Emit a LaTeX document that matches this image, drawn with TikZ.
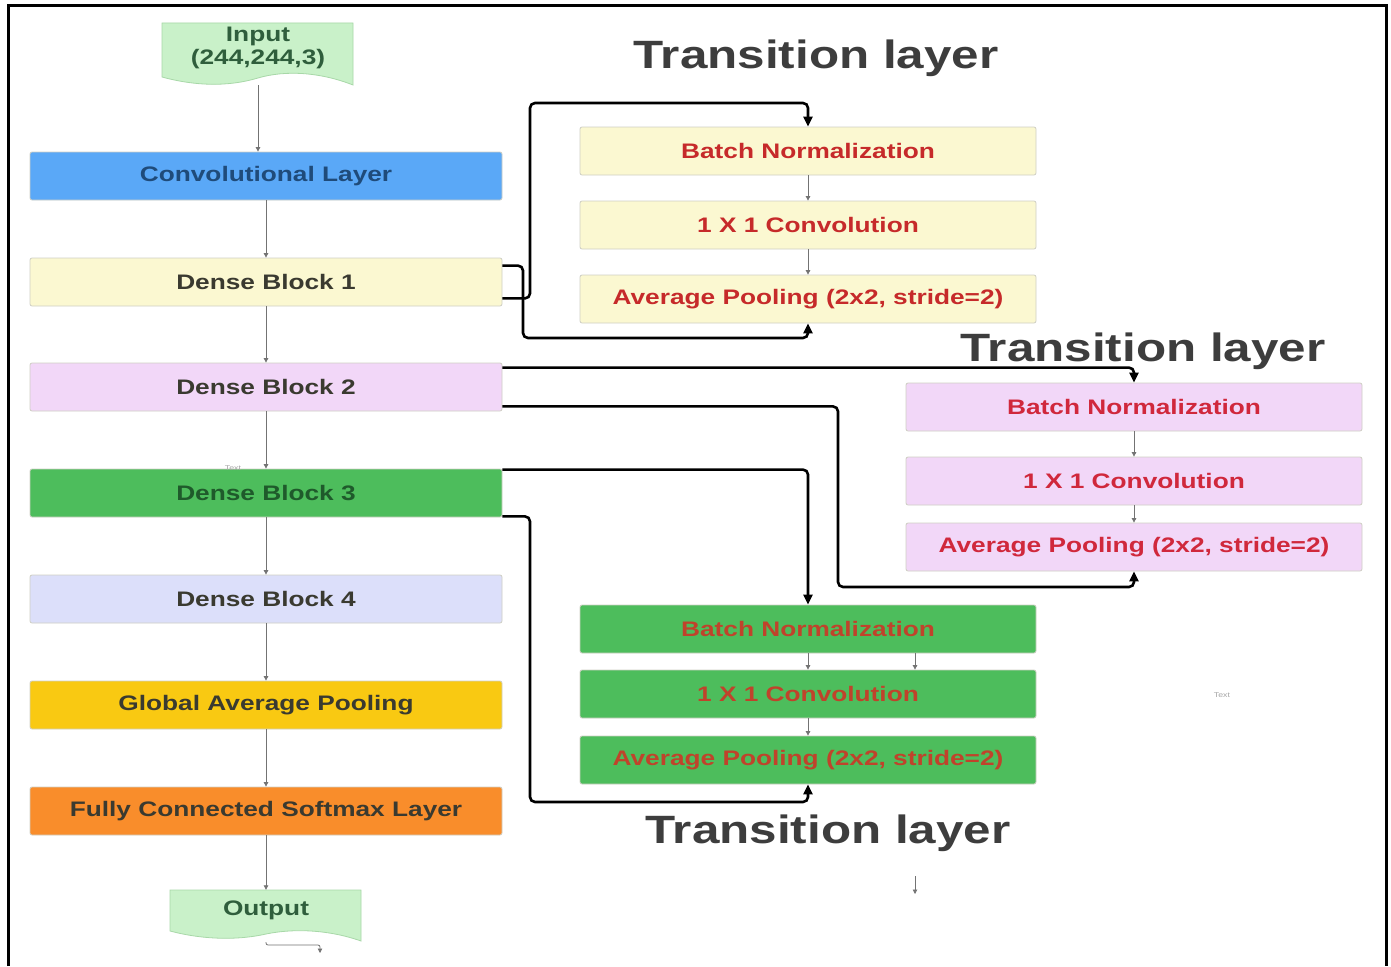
\documentclass[tikz,border=0pt]{standalone}
\usepackage{fontspec}
\setmainfont[FakeStretch=1.25]{Liberation Sans}
\usetikzlibrary{arrows.meta,calc}
\definecolor{inG}{HTML}{C9F1C9}
\definecolor{inGb}{HTML}{A8D8A8}
\definecolor{inGt}{HTML}{2F5E3C}
\definecolor{convB}{HTML}{5AA8F7}
\definecolor{convT}{HTML}{1F4B7A}
\definecolor{yel}{HTML}{FBF8D1}
\definecolor{vio}{HTML}{F2D7F8}
\definecolor{grn}{HTML}{4DBD5C}
\definecolor{grnT}{HTML}{1F5A2B}
\definecolor{lav}{HTML}{DCDFFA}
\definecolor{gold}{HTML}{F9C912}
\definecolor{orng}{HTML}{F98D2B}
\definecolor{darkT}{HTML}{3A3A30}
\definecolor{redT}{HTML}{C62A2A}
\definecolor{pinkT}{HTML}{D0283C}
\definecolor{gredT}{HTML}{C0432B}
\definecolor{titleT}{HTML}{3D3D3D}
\definecolor{bord}{HTML}{CFCFC4}
\tikzset{
  box/.style={draw=bord, line width=0.8pt, rounded corners=2pt, minimum height=48pt,
    inner sep=0pt, font=\bfseries\fontsize{21}{24}\selectfont},
  mainbox/.style={box, minimum width=472pt},
  trbox/.style={box, minimum width=456pt},
  title/.style={font=\bfseries\fontsize{39.5}{44}\selectfont, text=titleT},
  thk/.style={draw=black, line width=2.6pt, rounded corners=5pt,
    -{Triangle[length=10pt,width=9pt]}},
  thn/.style={draw=gray!90!black, line width=0.8pt, -{Triangle[length=4.5pt,width=4.5pt]}},
  tiny/.style={font=\fontsize{7}{8}\selectfont, text=gray!70},
}
\begin{document}
\begin{tikzpicture}[x=1pt,y=-1pt]
\useasboundingbox (0,0) rectangle (1391,966);
\fill[white] (0,0) rectangle (1391,966);
% frame
\draw[line width=3pt] (8,966) -- (8,6) -- (1386,6) -- (1386,966);

% Input (document shape)
\node[minimum width=191pt, minimum height=62pt, inner sep=0pt] (in) at (258,54) {};
\fill[inG, draw=inGb, line width=0.8pt] (162,23) -- (353,23) -- (353,85)
  .. controls (320,72) and (285,70) .. (258,78)
  .. controls (228,87) and (195,86) .. (162,77) -- cycle;
\node[font=\bfseries\fontsize{21}{23.5}\selectfont, text=inGt, align=center] (intext) at (258,48) {Input\\(244,244,3)};

% Output (document shape)
\node[minimum width=191pt, minimum height=48pt, inner sep=0pt] (out) at (266,914) {};
\fill[inG, draw=inGb, line width=0.8pt] (170,890) -- (361,890) -- (361,941)
  .. controls (330,930) and (295,928) .. (266,934)
  .. controls (235,941) and (200,939) .. (170,931) -- cycle;
\node[font=\bfseries\fontsize{21}{23}\selectfont, text=inGt] (outtext) at (266,910) {Output};

% main column
\node[mainbox, fill=convB, text=convT] (conv) at (266,176) {Convolutional Layer};
\node[mainbox, fill=yel, text=darkT] (db1) at (266,282) {Dense Block 1};
\node[mainbox, fill=vio, text=darkT] (db2) at (266,387) {Dense Block 2};
\node[mainbox, fill=grn, text=grnT] (db3) at (266,493) {Dense Block 3};
\node[mainbox, fill=lav, text=darkT] (db4) at (266,599) {Dense Block 4};
\node[mainbox, fill=gold, text=darkT] (gap) at (266,705) {Global Average Pooling};
\node[mainbox, fill=orng, text=darkT] (fc) at (266,811) {Fully Connected Softmax Layer};

% transition 1 (yellow)
\node[trbox, fill=yel, text=redT] (bn1) at (808,151) {Batch Normalization};
\node[trbox, fill=yel, text=redT] (cv1) at (808,225) {1 X 1 Convolution};
\node[trbox, fill=yel, text=redT] (ap1) at (808,299) {Average Pooling (2x2, stride=2)};
% transition 2 (violet)
\node[trbox, fill=vio, text=pinkT] (bn2) at (1134,407) {Batch Normalization};
\node[trbox, fill=vio, text=pinkT] (cv2) at (1134,481) {1 X 1 Convolution};
\node[trbox, fill=vio, text=pinkT] (ap2) at (1134,547) {Average Pooling (2x2, stride=2)};
% transition 3 (green)
\node[trbox, fill=grn, text=gredT] (bn3) at (808,629) {Batch Normalization};
\node[trbox, fill=grn, text=gredT] (cv3) at (808,694) {1 X 1 Convolution};
\node[trbox, fill=grn, text=gredT] (ap3) at (808,760) {Average Pooling (2x2, stride=2)};

% titles
\node[title] (t1) at (816,58) {Transition layer};
\node[title] (t2) at (1143,351) {Transition layer};
\node[title] (t3) at (828,833) {Transition layer};

% small stray labels
\node[tiny] (tx1) at (233,468) {Text};
\node[tiny] (tx2) at (1222,695) {Text};

% main column thin connectors
\draw[thn] (in.south) -- (conv.north -| in.south);
\draw[thn] (conv) -- (db1);
\draw[thn] (db1) -- (db2);
\draw[thn] (db2) -- (db3);
\draw[thn] (db3) -- (db4);
\draw[thn] (db4) -- (gap);
\draw[thn] (gap) -- (fc);
\draw[thn] (fc) -- (out);
\coordinate (obend) at (320,945);
\coordinate (oend) at (320,953);
\draw[thn, rounded corners=2pt] ([yshift=-4pt]out.south) |- (obend) -- (oend);

% transition internal connectors
\draw[thn] (bn1) -- (cv1);
\draw[thn] (cv1) -- (ap1);
\draw[thn] (bn2) -- (cv2);
\draw[thn] (cv2) -- (ap2);
\draw[thn] (bn3) -- (cv3);
\draw[thn] (cv3) -- (ap3);
\draw[thn] ([xshift=107pt]bn3.south) -- ([xshift=107pt]cv3.north);
\coordinate (sa) at (915,876);
\coordinate (sb) at (915,894);
\draw[thn] (sa) -- (sb);

% thick connectors
\coordinate (c1a) at (530,103);
\coordinate (c1b) at (523,338);
\draw[thk] ([yshift=8pt]db1.south east) -| (c1a) -| (bn1.north);
\draw[thk] ([yshift=-8pt]db1.north east) -| (c1b) -| (ap1.south);
\draw[thk] ([yshift=-5pt]db2.north east) -| (bn2.north);
\coordinate (c2b) at (838,587);
\draw[thk] ([yshift=5pt]db2.south east) -| (c2b) -| (ap2.south);
\draw[thk] ([yshift=-1pt]db3.north east) -| (bn3.north);
\coordinate (c3b) at (530,802);
\draw[thk] ([yshift=1pt]db3.south east) -| (c3b) -| (ap3.south);
\end{tikzpicture}
\end{document}
